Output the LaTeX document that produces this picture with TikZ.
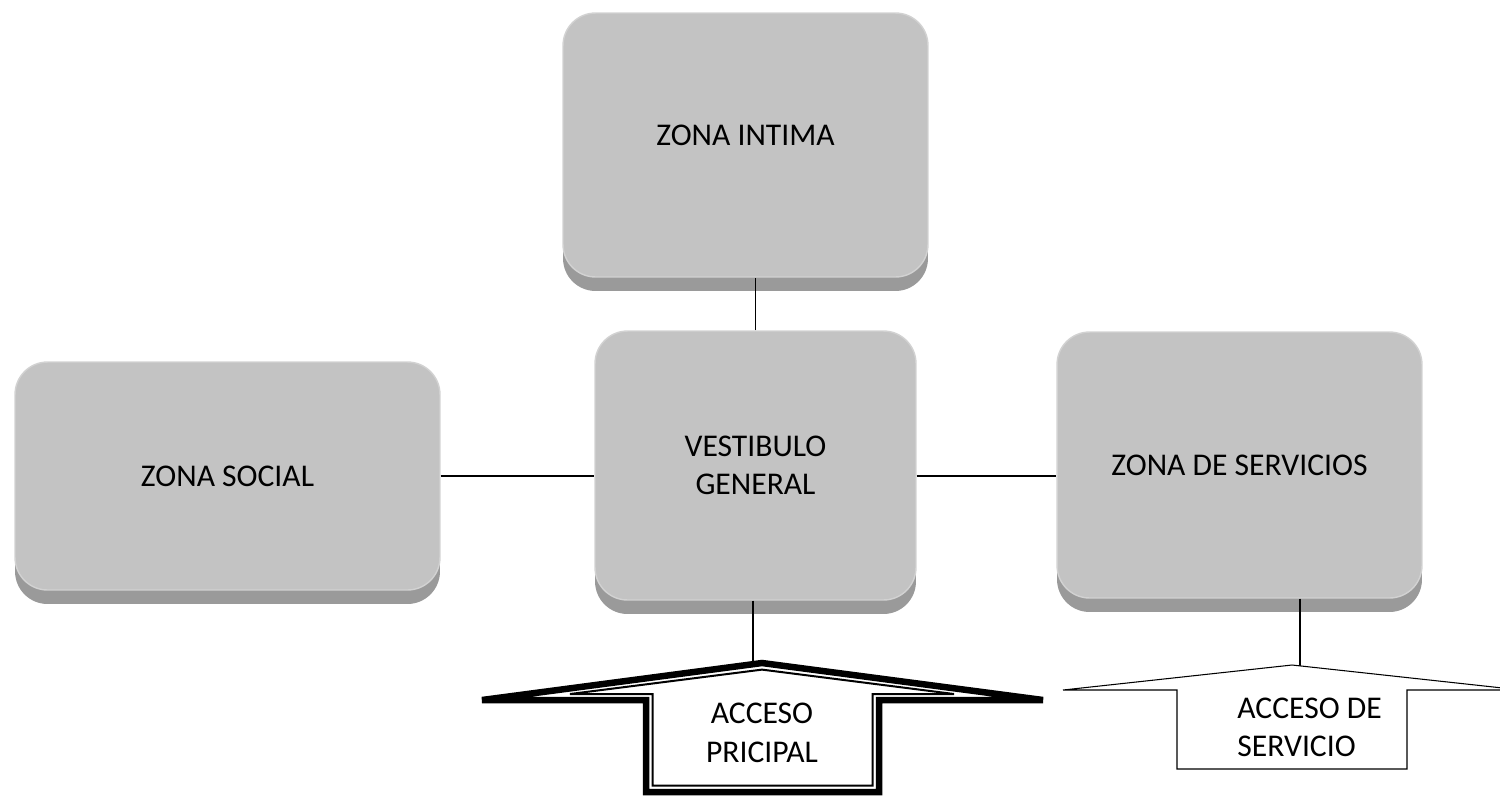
\documentclass[tikz,border=0pt]{standalone}
\usepackage{fontspec}
\setmainfont{Carlito}
\usetikzlibrary{shadows}
\definecolor{zonaface}{HTML}{C3C3C3}
\definecolor{zonarim}{HTML}{D2D2D2}
\definecolor{zonadark}{HTML}{9A9A9A}
\tikzset{
	zona/.style={rounded corners=0.65cm, fill=zonaface, draw=zonarim, line width=0.8pt,
		font=\fontsize{18}{22}\selectfont, align=center, inner sep=0pt,
		drop shadow={shadow xshift=0cm, shadow yshift=-0.28cm, fill=zonadark, opacity=1}},
	enlace/.style={line width=0.6pt},
	acceso/.style={font=\fontsize{18}{22}\selectfont, inner sep=0pt},
}

\begin{document}
\begin{tikzpicture}[x=0.02cm, y=-0.02cm]
			%%%%% START %%%%%
			\useasboundingbox (0,0) rectangle (1500,796);
			
			\node[zona, minimum width=7.3cm, minimum height=5.28cm, text depth=0.4cm] (intima) at (745.5,145) {ZONA INTIMA};
			\node[zona, minimum width=6.42cm, minimum height=5.38cm] (vest) at (755.5,465.5) {VESTIBULO\\GENERAL};
			\node[zona, minimum width=8.5cm, minimum height=4.56cm] (social) at (227.5,476) {ZONA SOCIAL};
			\node[zona, minimum width=7.3cm, minimum height=5.32cm] (serv) at (1239.5,465) {ZONA DE SERVICIOS};
			
			\draw[enlace] (vest.north) -- (vest.north |- intima.south);
			\draw[enlace] (social.east) -- (social.east -| vest.west);
			\draw[enlace] (social.east -| vest.east) -- (social.east -| serv.west);
			
			\coordinate (puntaA) at (753,661);
			\coordinate (puntaS) at (1300,666);
			\draw[enlace] (puntaA |- vest.south) -- (puntaA);
			\draw[enlace] (puntaS |- serv.south) -- (puntaS);
			
			% acceso principal
			\draw[line width=0.13cm, fill=white] (482,700) -- (762,663) -- (1043,700) -- (879,700) -- (879,792) -- (646,792) -- (646,700) -- cycle;
			\draw[line width=0.04cm] (570,694) -- (762,669.6) -- (954,694) -- (872.5,694) -- (872.5,785.5) -- (652.5,785.5) -- (652.5,694) -- cycle;
			\node[acceso, align=center] (accA) at (762,733) {ACCESO\\PRICIPAL};
			
			% acceso de servicio
			\draw[enlace, fill=white] (1063,690) -- (1292,665) -- (1521,690) -- (1407,690) -- (1407,769) -- (1177,769) -- (1177,690) -- cycle;
			\node[acceso, align=left, anchor=west] (accS) at (1237,727.5) {ACCESO DE\\SERVICIO};
			
			%%%%% END %%%%%
\end{tikzpicture}
\end{document}
